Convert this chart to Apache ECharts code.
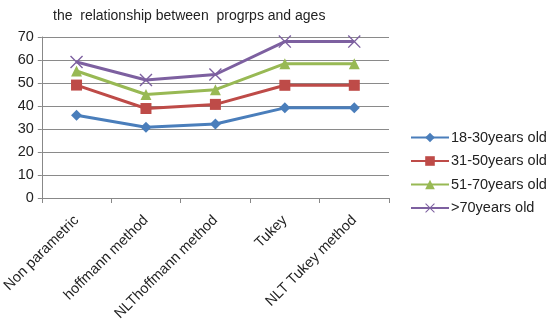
<!DOCTYPE html>
<html><head><meta charset="utf-8">
<script src="https://cdn.jsdelivr.net/npm/echarts@6/dist/echarts.min.js"></script>
<style>html,body{margin:0;padding:0;background:#fff}#c{width:552px;height:326px}</style>
</head><body><div id="c"></div>
<script>
var categories = ['Non parametric', 'hoffmann method', 'NLThoffmann method', 'Tukey', 'NLT Tukey method'];
var seriesNames = ['18-30years old', '31-50years old', '51-70years old', '>70years old'];
var s18_30 = [36, 30.8, 32.2, 39.2, 39.2];
var s31_50 = [49.1, 38.9, 40.7, 49, 49];
var s51_70 = [55.2, 45, 47.1, 58.4, 58.4];
var s70p = [59.1, 51.3, 53.7, 68, 68];
var yTicks = {min: 0, max: 70, interval: 10};
var title = 'the  relationship between  progrps and ages';

var colors = ['#4A7EBB', '#BE4B48', '#98B954', '#7D60A0'];
var symbols = ['diamond', 'rect', 'triangle',
  'path://M0,1.5 L1.5,0 L10,8.5 L18.5,0 L20,1.5 L11.5,10 L20,18.5 L18.5,20 L10,11.5 L1.5,20 L0,18.5 L8.5,10 Z'];
var sizes = [11, 11, 11, 13];
var data = [s18_30, s31_50, s51_70, s70p];
var font = 'Liberation Sans, Arial, sans-serif';

var chart = echarts.init(document.getElementById('c'), null, {renderer: 'canvas'});
chart.setOption({
  animation: false,
  backgroundColor: '#fff',
  title: {text: title, left: 48, top: 4, textStyle: {fontSize: 14, fontWeight: 'normal', color: '#222', fontFamily: font}},
  grid: {left: 32, right: 163, top: 37, bottom: 128},
  legend: {
    orient: 'vertical', left: 405, top: 125, itemWidth: 38, itemHeight: 12, itemGap: 8.5,
    textStyle: {fontSize: 14.5, color: '#222', fontFamily: font, padding: [0,0,0,-3]},
    data: seriesNames
  },
  xAxis: {
    type: 'category', data: categories, boundaryGap: true,
    axisLine: {lineStyle: {color: '#888', width: 1}},
    axisTick: {show: true, length: 5, lineStyle: {color: '#888'}},
    axisLabel: {rotate: 45, fontSize: 14.5, color: '#222', fontFamily: font, margin: 20, interval: 0}
  },
  yAxis: {
    type: 'value', min: yTicks.min, max: yTicks.max, interval: yTicks.interval,
    axisLine: {show: true, lineStyle: {color: '#888'}},
    axisTick: {show: true, length: 4, lineStyle: {color: '#888'}},
    axisLabel: {fontSize: 14.5, color: '#222', fontFamily: font, margin: 8},
    splitLine: {lineStyle: {color: '#8a8a8a', width: 1}}
  },
  series: seriesNames.map(function (n, i) {
    return {
      name: n, type: 'line', data: data[i],
      symbol: symbols[i], symbolSize: sizes[i], showAllSymbol: true,
      lineStyle: {color: colors[i], width: 3},
      itemStyle: {color: colors[i], borderWidth: 0}
    };
  })
});
</script></body></html>
